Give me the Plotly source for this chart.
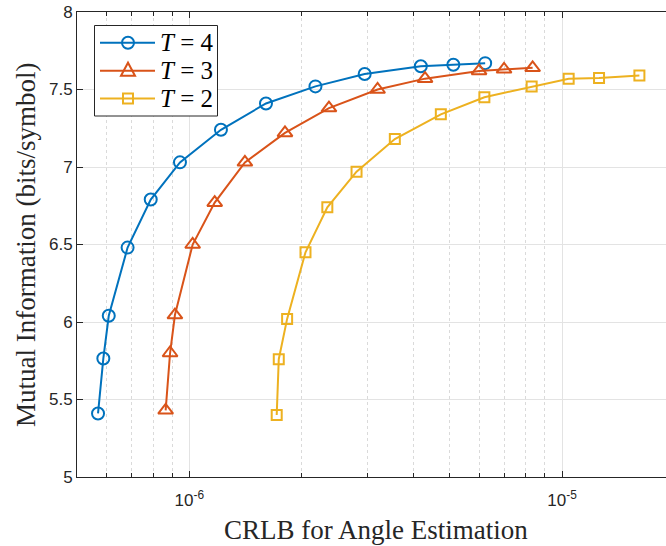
import plotly.graph_objects as go

# ---- data ----
crlb_T4 = [5.69e-7, 5.88e-7, 6.08e-7, 6.83e-7, 7.88e-7, 9.44e-7, 1.216e-6, 1.606e-6,
           2.18e-6, 2.955e-6, 4.18e-6, 5.11e-6, 6.22e-6]
mi_T4 = [5.41, 5.765, 6.04, 6.48, 6.79, 7.03, 7.24, 7.41, 7.52, 7.60, 7.65, 7.66, 7.67]

crlb_T3 = [8.64e-7, 8.88e-7, 9.15e-7, 1.021e-6, 1.17e-6, 1.41e-6, 1.806e-6, 2.37e-6,
           3.20e-6, 4.29e-6, 5.99e-6, 6.99e-6, 8.34e-6]
mi_T3 = [5.43, 5.80, 6.045, 6.50, 6.77, 7.03, 7.22, 7.38, 7.50, 7.57, 7.62, 7.63, 7.64]

crlb_T2 = [1.716e-6, 1.738e-6, 1.83e-6, 2.05e-6, 2.346e-6, 2.81e-6, 3.56e-6, 4.73e-6,
           6.19e-6, 8.29e-6, 1.042e-5, 1.257e-5, 1.613e-5]
mi_T2 = [5.40, 5.76, 6.02, 6.45, 6.74, 6.97, 7.18, 7.34, 7.45, 7.52, 7.57, 7.575, 7.59]

series_names = ["<i>T</i> = 4", "<i>T</i> = 3", "<i>T</i> = 2"]
x_major_ticks = [1e-6, 1e-5]
x_major_labels = ["10<sup>-6</sup>", "10<sup>-5</sup>"]
x_minor_ticks = [6e-7, 7e-7, 8e-7, 9e-7, 2e-6, 3e-6, 4e-6, 5e-6, 6e-6, 7e-6, 8e-6, 9e-6]
y_ticks = [5, 5.5, 6, 6.5, 7, 7.5, 8]
y_labels = ["5", "5.5", "6", "6.5", "7", "7.5", "8"]
x_title = "CRLB for Angle Estimation"
y_title = "Mutual Information (bits/symbol)"

colors = ["#0072BD", "#D95319", "#EDB120"]
symbols = ["circle-open", "triangle-up-open", "square-open"]
msizes = [12, 13, 10]

# ---- layout geometry (pixels) ----
FIG_W, FIG_H = 666, 546
ML, MR, MT, MB = 77, 0, 12, 69
PW = FIG_W - ML - MR
PH = FIG_H - MT - MB


def px(xp):
    return (xp - ML) / PW


def py(yp):
    return (FIG_H - MB - yp) / PH


fig = go.Figure()
series = [(crlb_T4, mi_T4), (crlb_T3, mi_T3), (crlb_T2, mi_T2)]
for (xs, ys), name, c, s, sz in zip(series, series_names, colors, symbols, msizes):
    fig.add_trace(go.Scatter(
        x=xs, y=ys, name=name, mode="lines+markers",
        line=dict(color=c, width=2),
        marker=dict(symbol=s, size=sz, color=c, line=dict(width=2, color=c)),
        showlegend=False,
    ))

axis_font = dict(family="Liberation Sans, Arial, sans-serif", size=17, color="#262626")
title_font = dict(family="Liberation Serif, Times New Roman, serif", size=27, color="#262626")

fig.update_xaxes(
    type="log",
    range=[-6.3013, -4.721],
    tickmode="array", tickvals=x_major_ticks, ticktext=x_major_labels,
    ticks="inside", ticklen=6, tickcolor="#262626", tickwidth=1,
    showgrid=True, gridcolor="#e3e3e3", gridwidth=1,
    minor=dict(tickmode="array", tickvals=x_minor_ticks, ticks="inside", ticklen=4,
               tickcolor="#262626", showgrid=True, gridcolor="#dadada", griddash="dot", gridwidth=1),
    showline=True, linecolor="#262626", linewidth=1, mirror="allticks",
    tickfont=axis_font, automargin=False, ticklabelstandoff=8,
    zeroline=False,
)
fig.update_yaxes(
    range=[5, 8],
    tickmode="array", tickvals=y_ticks, ticktext=y_labels,
    ticks="inside", ticklen=6, tickcolor="#262626", tickwidth=1,
    showgrid=True, gridcolor="#e3e3e3", gridwidth=1,
    showline=True, linecolor="#262626", linewidth=1,
    tickfont=axis_font, automargin=False,
    zeroline=False,
)

# axis titles
fig.add_annotation(text=x_title, xref="paper", yref="paper", x=px(376), y=py(530),
                   xanchor="center", yanchor="middle", showarrow=False, font=title_font)
fig.add_annotation(text=y_title, xref="paper", yref="paper", x=px(26), y=py(245),
                   xanchor="center", yanchor="middle", showarrow=False, font=title_font,
                   textangle=-90)

# ---- custom legend (MATLAB style) ----
LX0, LX1, LY0, LY1 = 94.5, 217.5, 25.5, 116
fig.add_shape(type="rect", xref="paper", yref="paper",
              x0=px(LX0), x1=px(LX1), y0=py(LY0), y1=py(LY1),
              line=dict(color="#262626", width=1), fillcolor="white", layer="above")
entry_y = [42.7, 70.7, 98.5]
line_x0, line_x1, mark_x, text_x = 100, 155, 128, 158
for i, (name, c) in enumerate(zip(series_names, colors)):
    yy = py(entry_y[i])
    fig.add_shape(type="line", xref="paper", yref="paper",
                  x0=px(line_x0), x1=px(line_x1), y0=yy, y1=yy,
                  line=dict(color=c, width=2), layer="above")
    if i == 0:
        fig.add_shape(type="circle", xref="paper", yref="paper",
                      xsizemode="pixel", ysizemode="pixel",
                      xanchor=px(mark_x), yanchor=yy, x0=-6, x1=6, y0=-6, y1=6,
                      line=dict(color=c, width=2), fillcolor="rgba(0,0,0,0)", layer="above")
    elif i == 1:
        fig.add_shape(type="path", xref="paper", yref="paper",
                      xsizemode="pixel", ysizemode="pixel",
                      xanchor=px(mark_x), yanchor=yy,
                      path="M -7 -5 L 7 -5 L 0 8 Z",
                      line=dict(color=c, width=2), fillcolor="rgba(0,0,0,0)", layer="above")
    else:
        fig.add_shape(type="rect", xref="paper", yref="paper",
                      xsizemode="pixel", ysizemode="pixel",
                      xanchor=px(mark_x), yanchor=yy, x0=-5, x1=5, y0=-5, y1=5,
                      line=dict(color=c, width=2), fillcolor="rgba(0,0,0,0)", layer="above")
    fig.add_annotation(text=name, xref="paper", yref="paper", x=px(text_x), y=yy,
                       xanchor="left", yanchor="middle", showarrow=False,
                       font=dict(family="Liberation Serif, Times New Roman, serif",
                                 size=25, color="#000000"))

fig.update_layout(
    width=FIG_W, height=FIG_H,
    margin=dict(l=ML, r=MR, t=MT, b=MB),
    paper_bgcolor="white", plot_bgcolor="white",
    showlegend=False,
)

fig.write_html("out.html", config={"displayModeBar": False},
               post_script="document.body.style.margin='0';document.body.style.overflow='hidden';")
